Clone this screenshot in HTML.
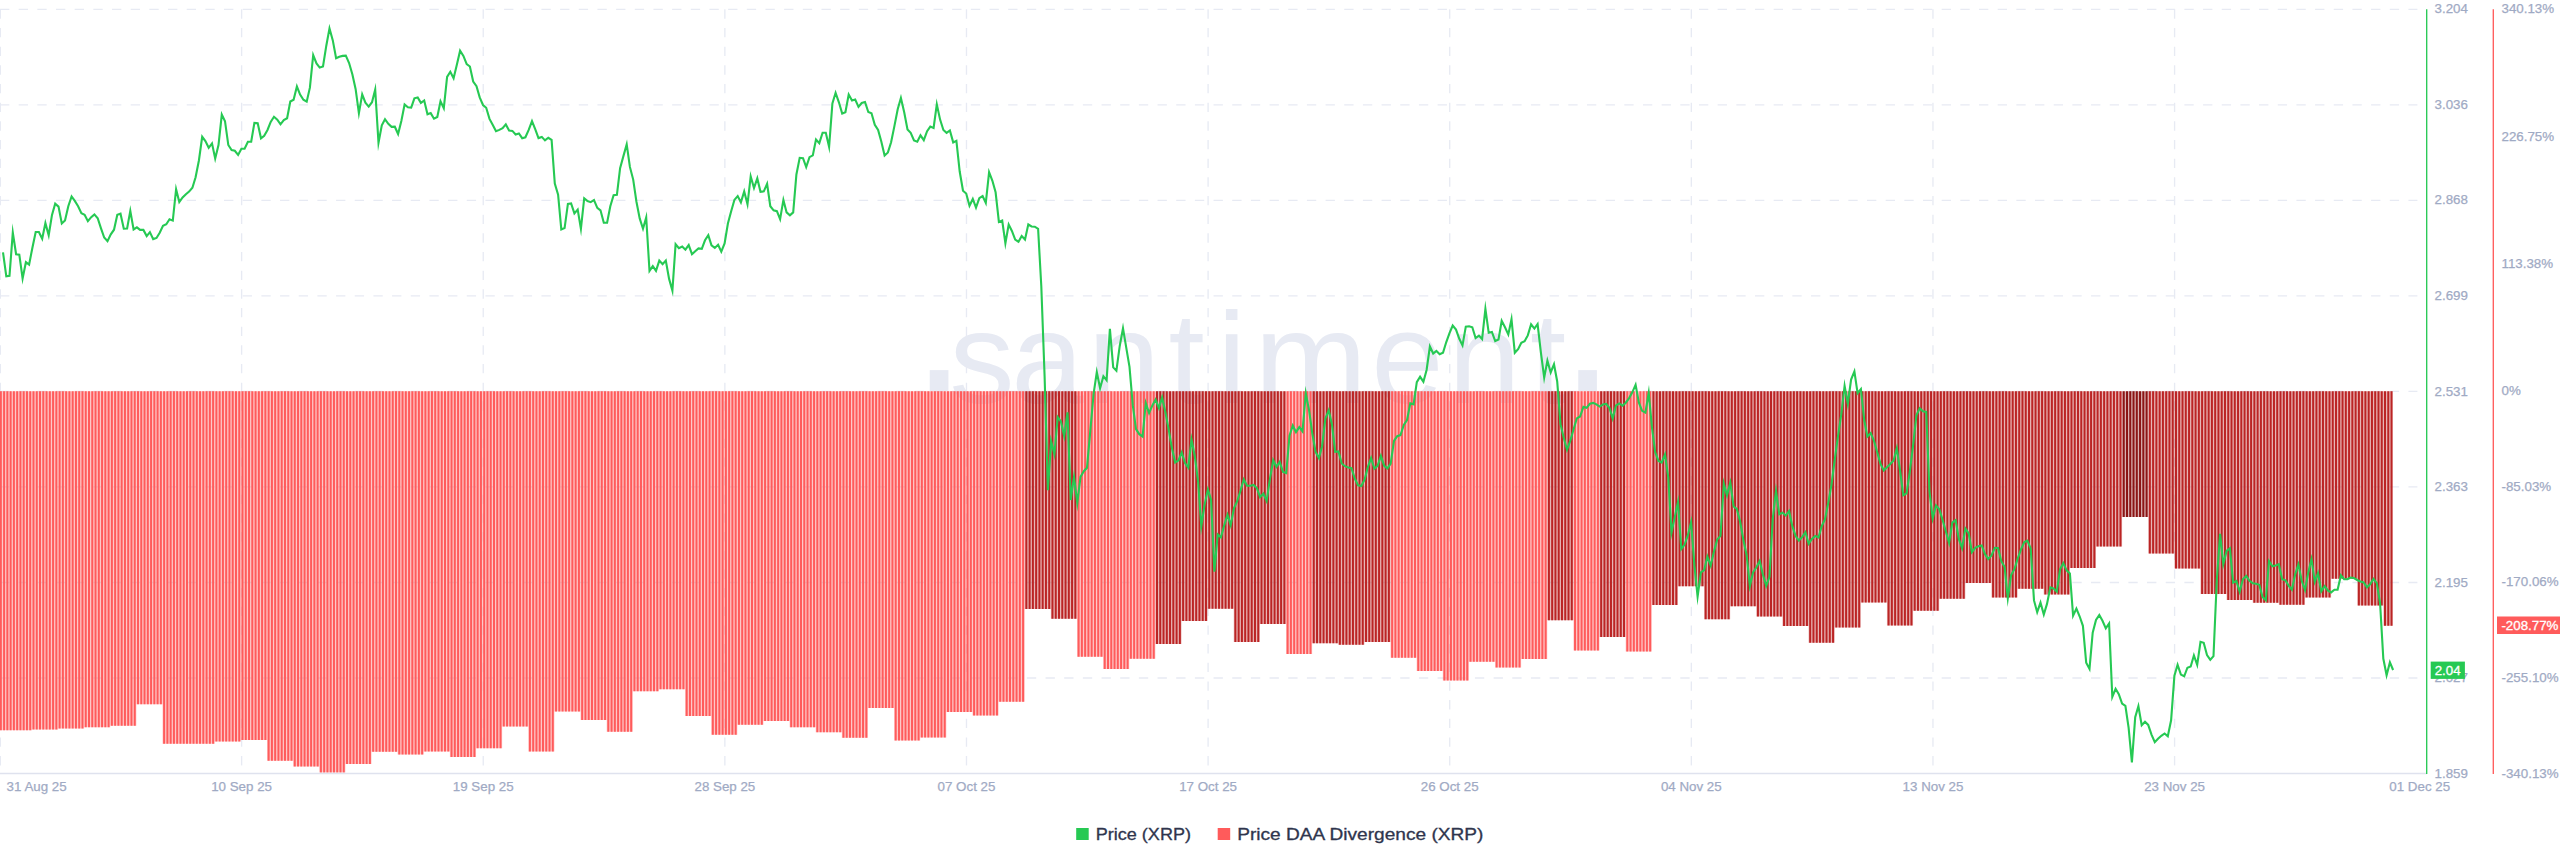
<!DOCTYPE html><html><head><meta charset="utf-8"><title>Price DAA Divergence (XRP)</title>
<style>html,body{margin:0;padding:0;background:#fff}body{width:2560px;height:867px;overflow:hidden}svg{display:block}text{font-family:"Liberation Sans",Arial,Helvetica,sans-serif}</style></head><body>
<svg width="2560" height="867" viewBox="0 0 2560 867">
<rect width="2560" height="867" fill="#fff"/>
<g stroke="#E7EAF3" stroke-width="1.33" stroke-dasharray="9.335 9.335" fill="none">
<line x1="0" y1="9.30" x2="2417.4" y2="9.30"/>
<line x1="0" y1="104.83" x2="2417.4" y2="104.83"/>
<line x1="0" y1="200.36" x2="2417.4" y2="200.36"/>
<line x1="0" y1="295.89" x2="2417.4" y2="295.89"/>
<line x1="0" y1="391.42" x2="2417.4" y2="391.42"/>
<line x1="0" y1="486.95" x2="2417.4" y2="486.95"/>
<line x1="0" y1="582.48" x2="2417.4" y2="582.48"/>
<line x1="0" y1="678.01" x2="2417.4" y2="678.01"/>
<line x1="0.30" y1="9.3" x2="0.30" y2="773.5"/>
<line x1="241.62" y1="9.3" x2="241.62" y2="773.5"/>
<line x1="483.24" y1="9.3" x2="483.24" y2="773.5"/>
<line x1="724.86" y1="9.3" x2="724.86" y2="773.5"/>
<line x1="966.48" y1="9.3" x2="966.48" y2="773.5"/>
<line x1="1208.10" y1="9.3" x2="1208.10" y2="773.5"/>
<line x1="1449.72" y1="9.3" x2="1449.72" y2="773.5"/>
<line x1="1691.34" y1="9.3" x2="1691.34" y2="773.5"/>
<line x1="1932.96" y1="9.3" x2="1932.96" y2="773.5"/>
<line x1="2174.58" y1="9.3" x2="2174.58" y2="773.5"/>
</g>
<text font-size="130" fill="#E7EAF3" text-anchor="middle" x="939.0 982.1 1047.5 1123.9 1186.6 1231.7 1310.7 1407.3 1484.5 1548.0 1587.5" y="390.5 402.5 402.5 402.5 402.5 402.5 402.5 402.5 402.5 402.5 390.5"><tspan font-size="195">.</tspan>santi<tspan textLength="113" lengthAdjust="spacingAndGlyphs">m</tspan>ent<tspan font-size="195">.</tspan></text>
<path fill="#FF5B5B" fill-opacity="0.335" d="M-0.80 391.2H31.86V730.3H-0.80zM31.86 391.2H57.98V729.4H31.86zM57.98 391.2H84.11V728.4H57.98zM84.11 391.2H110.24V727.2H84.11zM110.24 391.2H136.37V725.8H110.24zM136.37 391.2H162.50V704.3H136.37zM162.50 391.2H188.63V743.8H162.50zM188.62 391.2H214.75V743.7H188.62zM214.75 391.2H240.88V741.6H214.75zM240.88 391.2H267.01V740.0H240.88zM267.01 391.2H293.14V760.8H267.01zM293.14 391.2H319.26V766.6H293.14zM319.26 391.2H345.39V772.6H319.26zM345.39 391.2H371.52V764.0H345.39zM371.52 391.2H397.65V751.8H371.52zM397.65 391.2H423.78V754.6H397.65zM423.78 391.2H449.90V751.6H423.78zM449.91 391.2H476.03V756.9H449.91zM476.03 391.2H502.16V748.3H476.03zM502.16 391.2H528.29V726.6H502.16zM528.29 391.2H554.42V751.6H528.29zM554.42 391.2H580.55V711.6H554.42zM580.54 391.2H606.67V720.0H580.54zM606.67 391.2H632.80V731.7H606.67zM632.80 391.2H658.93V691.3H632.80zM658.93 391.2H685.06V689.3H658.93zM685.06 391.2H711.19V716.0H685.06zM711.19 391.2H737.31V734.7H711.19zM737.31 391.2H763.44V724.8H737.31zM763.44 391.2H789.57V720.9H763.44zM789.57 391.2H815.70V727.3H789.57zM815.70 391.2H841.83V732.2H815.70zM841.83 391.2H867.95V737.7H841.83zM867.95 391.2H894.08V708.0H867.95zM894.08 391.2H920.21V740.5H894.08zM920.21 391.2H946.34V737.5H920.21zM946.34 391.2H972.47V711.9H946.34zM972.47 391.2H998.59V715.6H972.47zM998.59 391.2H1024.72V701.8H998.59zM1076.98 391.2H1103.11V656.7H1076.98zM1103.10 391.2H1129.23V668.9H1103.10zM1129.23 391.2H1155.36V658.7H1129.23zM1286.00 391.2H1312.13V654.1H1286.00zM1390.51 391.2H1416.64V657.8H1390.51zM1416.64 391.2H1442.77V671.0H1416.64zM1442.77 391.2H1468.90V680.4H1442.77zM1468.90 391.2H1495.02V661.7H1468.90zM1495.02 391.2H1521.15V667.6H1495.02zM1521.15 391.2H1547.28V659.1H1521.15zM1573.41 391.2H1599.54V650.6H1573.41zM1625.66 391.2H1651.79V651.5H1625.66z"/>
<path fill="#FF5B5B" d="M-0.17 391.2h2.0V730.3h-2.0zM3.10 391.2h2.0V730.3h-2.0zM6.36 391.2h2.0V730.3h-2.0zM9.63 391.2h2.0V730.3h-2.0zM12.89 391.2h2.0V730.3h-2.0zM16.16 391.2h2.0V730.3h-2.0zM19.43 391.2h2.0V730.3h-2.0zM22.69 391.2h2.0V730.3h-2.0zM25.96 391.2h2.0V730.3h-2.0zM29.22 391.2h2.0V730.3h-2.0zM32.49 391.2h2.0V729.4h-2.0zM35.76 391.2h2.0V729.4h-2.0zM39.02 391.2h2.0V729.4h-2.0zM42.29 391.2h2.0V729.4h-2.0zM45.55 391.2h2.0V729.4h-2.0zM48.82 391.2h2.0V729.4h-2.0zM52.09 391.2h2.0V729.4h-2.0zM55.35 391.2h2.0V729.4h-2.0zM58.62 391.2h2.0V728.4h-2.0zM61.88 391.2h2.0V728.4h-2.0zM65.15 391.2h2.0V728.4h-2.0zM68.42 391.2h2.0V728.4h-2.0zM71.68 391.2h2.0V728.4h-2.0zM74.95 391.2h2.0V728.4h-2.0zM78.21 391.2h2.0V728.4h-2.0zM81.48 391.2h2.0V728.4h-2.0zM84.75 391.2h2.0V727.2h-2.0zM88.01 391.2h2.0V727.2h-2.0zM91.28 391.2h2.0V727.2h-2.0zM94.54 391.2h2.0V727.2h-2.0zM97.81 391.2h2.0V727.2h-2.0zM101.08 391.2h2.0V727.2h-2.0zM104.34 391.2h2.0V727.2h-2.0zM107.61 391.2h2.0V727.2h-2.0zM110.87 391.2h2.0V725.8h-2.0zM114.14 391.2h2.0V725.8h-2.0zM117.41 391.2h2.0V725.8h-2.0zM120.67 391.2h2.0V725.8h-2.0zM123.94 391.2h2.0V725.8h-2.0zM127.20 391.2h2.0V725.8h-2.0zM130.47 391.2h2.0V725.8h-2.0zM133.74 391.2h2.0V725.8h-2.0zM137.00 391.2h2.0V704.3h-2.0zM140.27 391.2h2.0V704.3h-2.0zM143.53 391.2h2.0V704.3h-2.0zM146.80 391.2h2.0V704.3h-2.0zM150.07 391.2h2.0V704.3h-2.0zM153.33 391.2h2.0V704.3h-2.0zM156.60 391.2h2.0V704.3h-2.0zM159.86 391.2h2.0V704.3h-2.0zM163.13 391.2h2.0V743.8h-2.0zM166.40 391.2h2.0V743.8h-2.0zM169.66 391.2h2.0V743.8h-2.0zM172.93 391.2h2.0V743.8h-2.0zM176.19 391.2h2.0V743.8h-2.0zM179.46 391.2h2.0V743.8h-2.0zM182.73 391.2h2.0V743.8h-2.0zM185.99 391.2h2.0V743.8h-2.0zM189.26 391.2h2.0V743.7h-2.0zM192.52 391.2h2.0V743.7h-2.0zM195.79 391.2h2.0V743.7h-2.0zM199.06 391.2h2.0V743.7h-2.0zM202.32 391.2h2.0V743.7h-2.0zM205.59 391.2h2.0V743.7h-2.0zM208.85 391.2h2.0V743.7h-2.0zM212.12 391.2h2.0V743.7h-2.0zM215.39 391.2h2.0V741.6h-2.0zM218.65 391.2h2.0V741.6h-2.0zM221.92 391.2h2.0V741.6h-2.0zM225.18 391.2h2.0V741.6h-2.0zM228.45 391.2h2.0V741.6h-2.0zM231.72 391.2h2.0V741.6h-2.0zM234.98 391.2h2.0V741.6h-2.0zM238.25 391.2h2.0V741.6h-2.0zM241.51 391.2h2.0V740.0h-2.0zM244.78 391.2h2.0V740.0h-2.0zM248.05 391.2h2.0V740.0h-2.0zM251.31 391.2h2.0V740.0h-2.0zM254.58 391.2h2.0V740.0h-2.0zM257.84 391.2h2.0V740.0h-2.0zM261.11 391.2h2.0V740.0h-2.0zM264.38 391.2h2.0V740.0h-2.0zM267.64 391.2h2.0V760.8h-2.0zM270.91 391.2h2.0V760.8h-2.0zM274.17 391.2h2.0V760.8h-2.0zM277.44 391.2h2.0V760.8h-2.0zM280.71 391.2h2.0V760.8h-2.0zM283.97 391.2h2.0V760.8h-2.0zM287.24 391.2h2.0V760.8h-2.0zM290.50 391.2h2.0V760.8h-2.0zM293.77 391.2h2.0V766.6h-2.0zM297.04 391.2h2.0V766.6h-2.0zM300.30 391.2h2.0V766.6h-2.0zM303.57 391.2h2.0V766.6h-2.0zM306.83 391.2h2.0V766.6h-2.0zM310.10 391.2h2.0V766.6h-2.0zM313.37 391.2h2.0V766.6h-2.0zM316.63 391.2h2.0V766.6h-2.0zM319.90 391.2h2.0V772.6h-2.0zM323.16 391.2h2.0V772.6h-2.0zM326.43 391.2h2.0V772.6h-2.0zM329.70 391.2h2.0V772.6h-2.0zM332.96 391.2h2.0V772.6h-2.0zM336.23 391.2h2.0V772.6h-2.0zM339.49 391.2h2.0V772.6h-2.0zM342.76 391.2h2.0V772.6h-2.0zM346.03 391.2h2.0V764.0h-2.0zM349.29 391.2h2.0V764.0h-2.0zM352.56 391.2h2.0V764.0h-2.0zM355.82 391.2h2.0V764.0h-2.0zM359.09 391.2h2.0V764.0h-2.0zM362.36 391.2h2.0V764.0h-2.0zM365.62 391.2h2.0V764.0h-2.0zM368.89 391.2h2.0V764.0h-2.0zM372.15 391.2h2.0V751.8h-2.0zM375.42 391.2h2.0V751.8h-2.0zM378.69 391.2h2.0V751.8h-2.0zM381.95 391.2h2.0V751.8h-2.0zM385.22 391.2h2.0V751.8h-2.0zM388.48 391.2h2.0V751.8h-2.0zM391.75 391.2h2.0V751.8h-2.0zM395.02 391.2h2.0V751.8h-2.0zM398.28 391.2h2.0V754.6h-2.0zM401.55 391.2h2.0V754.6h-2.0zM404.81 391.2h2.0V754.6h-2.0zM408.08 391.2h2.0V754.6h-2.0zM411.35 391.2h2.0V754.6h-2.0zM414.61 391.2h2.0V754.6h-2.0zM417.88 391.2h2.0V754.6h-2.0zM421.14 391.2h2.0V754.6h-2.0zM424.41 391.2h2.0V751.6h-2.0zM427.68 391.2h2.0V751.6h-2.0zM430.94 391.2h2.0V751.6h-2.0zM434.21 391.2h2.0V751.6h-2.0zM437.47 391.2h2.0V751.6h-2.0zM440.74 391.2h2.0V751.6h-2.0zM444.01 391.2h2.0V751.6h-2.0zM447.27 391.2h2.0V751.6h-2.0zM450.54 391.2h2.0V756.9h-2.0zM453.80 391.2h2.0V756.9h-2.0zM457.07 391.2h2.0V756.9h-2.0zM460.34 391.2h2.0V756.9h-2.0zM463.60 391.2h2.0V756.9h-2.0zM466.87 391.2h2.0V756.9h-2.0zM470.13 391.2h2.0V756.9h-2.0zM473.40 391.2h2.0V756.9h-2.0zM476.67 391.2h2.0V748.3h-2.0zM479.93 391.2h2.0V748.3h-2.0zM483.20 391.2h2.0V748.3h-2.0zM486.46 391.2h2.0V748.3h-2.0zM489.73 391.2h2.0V748.3h-2.0zM493.00 391.2h2.0V748.3h-2.0zM496.26 391.2h2.0V748.3h-2.0zM499.53 391.2h2.0V748.3h-2.0zM502.79 391.2h2.0V726.6h-2.0zM506.06 391.2h2.0V726.6h-2.0zM509.33 391.2h2.0V726.6h-2.0zM512.59 391.2h2.0V726.6h-2.0zM515.86 391.2h2.0V726.6h-2.0zM519.12 391.2h2.0V726.6h-2.0zM522.39 391.2h2.0V726.6h-2.0zM525.66 391.2h2.0V726.6h-2.0zM528.92 391.2h2.0V751.6h-2.0zM532.19 391.2h2.0V751.6h-2.0zM535.45 391.2h2.0V751.6h-2.0zM538.72 391.2h2.0V751.6h-2.0zM541.99 391.2h2.0V751.6h-2.0zM545.25 391.2h2.0V751.6h-2.0zM548.52 391.2h2.0V751.6h-2.0zM551.78 391.2h2.0V751.6h-2.0zM555.05 391.2h2.0V711.6h-2.0zM558.32 391.2h2.0V711.6h-2.0zM561.58 391.2h2.0V711.6h-2.0zM564.85 391.2h2.0V711.6h-2.0zM568.11 391.2h2.0V711.6h-2.0zM571.38 391.2h2.0V711.6h-2.0zM574.65 391.2h2.0V711.6h-2.0zM577.91 391.2h2.0V711.6h-2.0zM581.18 391.2h2.0V720.0h-2.0zM584.44 391.2h2.0V720.0h-2.0zM587.71 391.2h2.0V720.0h-2.0zM590.98 391.2h2.0V720.0h-2.0zM594.24 391.2h2.0V720.0h-2.0zM597.51 391.2h2.0V720.0h-2.0zM600.77 391.2h2.0V720.0h-2.0zM604.04 391.2h2.0V720.0h-2.0zM607.31 391.2h2.0V731.7h-2.0zM610.57 391.2h2.0V731.7h-2.0zM613.84 391.2h2.0V731.7h-2.0zM617.10 391.2h2.0V731.7h-2.0zM620.37 391.2h2.0V731.7h-2.0zM623.64 391.2h2.0V731.7h-2.0zM626.90 391.2h2.0V731.7h-2.0zM630.17 391.2h2.0V731.7h-2.0zM633.43 391.2h2.0V691.3h-2.0zM636.70 391.2h2.0V691.3h-2.0zM639.97 391.2h2.0V691.3h-2.0zM643.23 391.2h2.0V691.3h-2.0zM646.50 391.2h2.0V691.3h-2.0zM649.76 391.2h2.0V691.3h-2.0zM653.03 391.2h2.0V691.3h-2.0zM656.30 391.2h2.0V691.3h-2.0zM659.56 391.2h2.0V689.3h-2.0zM662.83 391.2h2.0V689.3h-2.0zM666.09 391.2h2.0V689.3h-2.0zM669.36 391.2h2.0V689.3h-2.0zM672.63 391.2h2.0V689.3h-2.0zM675.89 391.2h2.0V689.3h-2.0zM679.16 391.2h2.0V689.3h-2.0zM682.42 391.2h2.0V689.3h-2.0zM685.69 391.2h2.0V716.0h-2.0zM688.96 391.2h2.0V716.0h-2.0zM692.22 391.2h2.0V716.0h-2.0zM695.49 391.2h2.0V716.0h-2.0zM698.75 391.2h2.0V716.0h-2.0zM702.02 391.2h2.0V716.0h-2.0zM705.29 391.2h2.0V716.0h-2.0zM708.55 391.2h2.0V716.0h-2.0zM711.82 391.2h2.0V734.7h-2.0zM715.08 391.2h2.0V734.7h-2.0zM718.35 391.2h2.0V734.7h-2.0zM721.62 391.2h2.0V734.7h-2.0zM724.88 391.2h2.0V734.7h-2.0zM728.15 391.2h2.0V734.7h-2.0zM731.41 391.2h2.0V734.7h-2.0zM734.68 391.2h2.0V734.7h-2.0zM737.95 391.2h2.0V724.8h-2.0zM741.21 391.2h2.0V724.8h-2.0zM744.48 391.2h2.0V724.8h-2.0zM747.74 391.2h2.0V724.8h-2.0zM751.01 391.2h2.0V724.8h-2.0zM754.28 391.2h2.0V724.8h-2.0zM757.54 391.2h2.0V724.8h-2.0zM760.81 391.2h2.0V724.8h-2.0zM764.07 391.2h2.0V720.9h-2.0zM767.34 391.2h2.0V720.9h-2.0zM770.61 391.2h2.0V720.9h-2.0zM773.87 391.2h2.0V720.9h-2.0zM777.14 391.2h2.0V720.9h-2.0zM780.40 391.2h2.0V720.9h-2.0zM783.67 391.2h2.0V720.9h-2.0zM786.94 391.2h2.0V720.9h-2.0zM790.20 391.2h2.0V727.3h-2.0zM793.47 391.2h2.0V727.3h-2.0zM796.73 391.2h2.0V727.3h-2.0zM800.00 391.2h2.0V727.3h-2.0zM803.27 391.2h2.0V727.3h-2.0zM806.53 391.2h2.0V727.3h-2.0zM809.80 391.2h2.0V727.3h-2.0zM813.06 391.2h2.0V727.3h-2.0zM816.33 391.2h2.0V732.2h-2.0zM819.60 391.2h2.0V732.2h-2.0zM822.86 391.2h2.0V732.2h-2.0zM826.13 391.2h2.0V732.2h-2.0zM829.39 391.2h2.0V732.2h-2.0zM832.66 391.2h2.0V732.2h-2.0zM835.93 391.2h2.0V732.2h-2.0zM839.19 391.2h2.0V732.2h-2.0zM842.46 391.2h2.0V737.7h-2.0zM845.72 391.2h2.0V737.7h-2.0zM848.99 391.2h2.0V737.7h-2.0zM852.26 391.2h2.0V737.7h-2.0zM855.52 391.2h2.0V737.7h-2.0zM858.79 391.2h2.0V737.7h-2.0zM862.05 391.2h2.0V737.7h-2.0zM865.32 391.2h2.0V737.7h-2.0zM868.59 391.2h2.0V708.0h-2.0zM871.85 391.2h2.0V708.0h-2.0zM875.12 391.2h2.0V708.0h-2.0zM878.38 391.2h2.0V708.0h-2.0zM881.65 391.2h2.0V708.0h-2.0zM884.92 391.2h2.0V708.0h-2.0zM888.18 391.2h2.0V708.0h-2.0zM891.45 391.2h2.0V708.0h-2.0zM894.71 391.2h2.0V740.5h-2.0zM897.98 391.2h2.0V740.5h-2.0zM901.25 391.2h2.0V740.5h-2.0zM904.51 391.2h2.0V740.5h-2.0zM907.78 391.2h2.0V740.5h-2.0zM911.04 391.2h2.0V740.5h-2.0zM914.31 391.2h2.0V740.5h-2.0zM917.58 391.2h2.0V740.5h-2.0zM920.84 391.2h2.0V737.5h-2.0zM924.11 391.2h2.0V737.5h-2.0zM927.37 391.2h2.0V737.5h-2.0zM930.64 391.2h2.0V737.5h-2.0zM933.91 391.2h2.0V737.5h-2.0zM937.17 391.2h2.0V737.5h-2.0zM940.44 391.2h2.0V737.5h-2.0zM943.70 391.2h2.0V737.5h-2.0zM946.97 391.2h2.0V711.9h-2.0zM950.24 391.2h2.0V711.9h-2.0zM953.50 391.2h2.0V711.9h-2.0zM956.77 391.2h2.0V711.9h-2.0zM960.03 391.2h2.0V711.9h-2.0zM963.30 391.2h2.0V711.9h-2.0zM966.57 391.2h2.0V711.9h-2.0zM969.83 391.2h2.0V711.9h-2.0zM973.10 391.2h2.0V715.6h-2.0zM976.36 391.2h2.0V715.6h-2.0zM979.63 391.2h2.0V715.6h-2.0zM982.90 391.2h2.0V715.6h-2.0zM986.16 391.2h2.0V715.6h-2.0zM989.43 391.2h2.0V715.6h-2.0zM992.69 391.2h2.0V715.6h-2.0zM995.96 391.2h2.0V715.6h-2.0zM999.23 391.2h2.0V701.8h-2.0zM1002.49 391.2h2.0V701.8h-2.0zM1005.76 391.2h2.0V701.8h-2.0zM1009.02 391.2h2.0V701.8h-2.0zM1012.29 391.2h2.0V701.8h-2.0zM1015.56 391.2h2.0V701.8h-2.0zM1018.82 391.2h2.0V701.8h-2.0zM1022.09 391.2h2.0V701.8h-2.0zM1077.61 391.2h2.0V656.7h-2.0zM1080.88 391.2h2.0V656.7h-2.0zM1084.14 391.2h2.0V656.7h-2.0zM1087.41 391.2h2.0V656.7h-2.0zM1090.67 391.2h2.0V656.7h-2.0zM1093.94 391.2h2.0V656.7h-2.0zM1097.21 391.2h2.0V656.7h-2.0zM1100.47 391.2h2.0V656.7h-2.0zM1103.74 391.2h2.0V668.9h-2.0zM1107.00 391.2h2.0V668.9h-2.0zM1110.27 391.2h2.0V668.9h-2.0zM1113.54 391.2h2.0V668.9h-2.0zM1116.80 391.2h2.0V668.9h-2.0zM1120.07 391.2h2.0V668.9h-2.0zM1123.33 391.2h2.0V668.9h-2.0zM1126.60 391.2h2.0V668.9h-2.0zM1129.87 391.2h2.0V658.7h-2.0zM1133.13 391.2h2.0V658.7h-2.0zM1136.40 391.2h2.0V658.7h-2.0zM1139.66 391.2h2.0V658.7h-2.0zM1142.93 391.2h2.0V658.7h-2.0zM1146.20 391.2h2.0V658.7h-2.0zM1149.46 391.2h2.0V658.7h-2.0zM1152.73 391.2h2.0V658.7h-2.0zM1286.63 391.2h2.0V654.1h-2.0zM1289.90 391.2h2.0V654.1h-2.0zM1293.17 391.2h2.0V654.1h-2.0zM1296.43 391.2h2.0V654.1h-2.0zM1299.70 391.2h2.0V654.1h-2.0zM1302.96 391.2h2.0V654.1h-2.0zM1306.23 391.2h2.0V654.1h-2.0zM1309.50 391.2h2.0V654.1h-2.0zM1391.15 391.2h2.0V657.8h-2.0zM1394.41 391.2h2.0V657.8h-2.0zM1397.68 391.2h2.0V657.8h-2.0zM1400.94 391.2h2.0V657.8h-2.0zM1404.21 391.2h2.0V657.8h-2.0zM1407.48 391.2h2.0V657.8h-2.0zM1410.74 391.2h2.0V657.8h-2.0zM1414.01 391.2h2.0V657.8h-2.0zM1417.27 391.2h2.0V671.0h-2.0zM1420.54 391.2h2.0V671.0h-2.0zM1423.81 391.2h2.0V671.0h-2.0zM1427.07 391.2h2.0V671.0h-2.0zM1430.34 391.2h2.0V671.0h-2.0zM1433.60 391.2h2.0V671.0h-2.0zM1436.87 391.2h2.0V671.0h-2.0zM1440.14 391.2h2.0V671.0h-2.0zM1443.40 391.2h2.0V680.4h-2.0zM1446.67 391.2h2.0V680.4h-2.0zM1449.93 391.2h2.0V680.4h-2.0zM1453.20 391.2h2.0V680.4h-2.0zM1456.47 391.2h2.0V680.4h-2.0zM1459.73 391.2h2.0V680.4h-2.0zM1463.00 391.2h2.0V680.4h-2.0zM1466.26 391.2h2.0V680.4h-2.0zM1469.53 391.2h2.0V661.7h-2.0zM1472.80 391.2h2.0V661.7h-2.0zM1476.06 391.2h2.0V661.7h-2.0zM1479.33 391.2h2.0V661.7h-2.0zM1482.59 391.2h2.0V661.7h-2.0zM1485.86 391.2h2.0V661.7h-2.0zM1489.13 391.2h2.0V661.7h-2.0zM1492.39 391.2h2.0V661.7h-2.0zM1495.66 391.2h2.0V667.6h-2.0zM1498.92 391.2h2.0V667.6h-2.0zM1502.19 391.2h2.0V667.6h-2.0zM1505.46 391.2h2.0V667.6h-2.0zM1508.72 391.2h2.0V667.6h-2.0zM1511.99 391.2h2.0V667.6h-2.0zM1515.25 391.2h2.0V667.6h-2.0zM1518.52 391.2h2.0V667.6h-2.0zM1521.79 391.2h2.0V659.1h-2.0zM1525.05 391.2h2.0V659.1h-2.0zM1528.32 391.2h2.0V659.1h-2.0zM1531.58 391.2h2.0V659.1h-2.0zM1534.85 391.2h2.0V659.1h-2.0zM1538.12 391.2h2.0V659.1h-2.0zM1541.38 391.2h2.0V659.1h-2.0zM1544.65 391.2h2.0V659.1h-2.0zM1574.04 391.2h2.0V650.6h-2.0zM1577.31 391.2h2.0V650.6h-2.0zM1580.57 391.2h2.0V650.6h-2.0zM1583.84 391.2h2.0V650.6h-2.0zM1587.11 391.2h2.0V650.6h-2.0zM1590.37 391.2h2.0V650.6h-2.0zM1593.64 391.2h2.0V650.6h-2.0zM1596.90 391.2h2.0V650.6h-2.0zM1626.30 391.2h2.0V651.5h-2.0zM1629.56 391.2h2.0V651.5h-2.0zM1632.83 391.2h2.0V651.5h-2.0zM1636.10 391.2h2.0V651.5h-2.0zM1639.36 391.2h2.0V651.5h-2.0zM1642.63 391.2h2.0V651.5h-2.0zM1645.89 391.2h2.0V651.5h-2.0zM1649.16 391.2h2.0V651.5h-2.0z"/>
<path fill="#BB2424" fill-opacity="0.335" d="M1024.72 391.2H1050.85V609.1H1024.72zM1050.85 391.2H1076.98V618.8H1050.85zM1155.36 391.2H1181.49V644.0H1155.36zM1181.49 391.2H1207.62V620.9H1181.49zM1207.62 391.2H1233.74V608.7H1207.62zM1233.74 391.2H1259.87V641.9H1233.74zM1259.87 391.2H1286.00V624.1H1259.87zM1312.13 391.2H1338.26V643.3H1312.13zM1338.26 391.2H1364.38V644.7H1338.26zM1364.38 391.2H1390.51V642.1H1364.38zM1547.28 391.2H1573.41V620.3H1547.28zM1599.54 391.2H1625.66V637.0H1599.54zM1651.79 391.2H1677.92V605.1H1651.79zM1677.92 391.2H1704.05V586.2H1677.92zM1704.05 391.2H1730.18V619.2H1704.05zM1730.18 391.2H1756.31V606.3H1730.18zM1756.30 391.2H1782.43V616.4H1756.30zM1782.43 391.2H1808.56V625.9H1782.43zM1808.56 391.2H1834.69V642.7H1808.56zM1834.69 391.2H1860.82V627.5H1834.69zM1860.82 391.2H1886.94V602.4H1860.82zM1886.94 391.2H1913.07V625.4H1886.94zM1913.07 391.2H1939.20V610.7H1913.07zM1939.20 391.2H1965.33V598.7H1939.20zM1965.33 391.2H1991.46V582.9H1965.33zM1991.46 391.2H2017.59V597.4H1991.46zM2017.58 391.2H2043.71V588.7H2017.58zM2043.71 391.2H2069.84V594.4H2043.71zM2069.84 391.2H2095.97V567.9H2069.84zM2095.97 391.2H2122.10V546.4H2095.97zM2148.22 391.2H2174.35V553.4H2148.22zM2174.35 391.2H2200.48V568.6H2174.35zM2200.48 391.2H2226.61V594.0H2200.48zM2226.61 391.2H2252.74V600.0H2226.61zM2252.74 391.2H2278.86V602.7H2252.74zM2278.87 391.2H2304.99V604.8H2278.87zM2304.99 391.2H2331.12V597.4H2304.99zM2331.12 391.2H2357.25V578.7H2331.12zM2357.25 391.2H2383.38V605.5H2357.25zM2383.38 391.2H2392.54V625.8H2383.38z"/>
<path fill="#BB2424" d="M1025.35 391.2h2.0V609.1h-2.0zM1028.62 391.2h2.0V609.1h-2.0zM1031.89 391.2h2.0V609.1h-2.0zM1035.15 391.2h2.0V609.1h-2.0zM1038.42 391.2h2.0V609.1h-2.0zM1041.68 391.2h2.0V609.1h-2.0zM1044.95 391.2h2.0V609.1h-2.0zM1048.22 391.2h2.0V609.1h-2.0zM1051.48 391.2h2.0V618.8h-2.0zM1054.75 391.2h2.0V618.8h-2.0zM1058.01 391.2h2.0V618.8h-2.0zM1061.28 391.2h2.0V618.8h-2.0zM1064.55 391.2h2.0V618.8h-2.0zM1067.81 391.2h2.0V618.8h-2.0zM1071.08 391.2h2.0V618.8h-2.0zM1074.34 391.2h2.0V618.8h-2.0zM1155.99 391.2h2.0V644.0h-2.0zM1159.26 391.2h2.0V644.0h-2.0zM1162.53 391.2h2.0V644.0h-2.0zM1165.79 391.2h2.0V644.0h-2.0zM1169.06 391.2h2.0V644.0h-2.0zM1172.32 391.2h2.0V644.0h-2.0zM1175.59 391.2h2.0V644.0h-2.0zM1178.86 391.2h2.0V644.0h-2.0zM1182.12 391.2h2.0V620.9h-2.0zM1185.39 391.2h2.0V620.9h-2.0zM1188.65 391.2h2.0V620.9h-2.0zM1191.92 391.2h2.0V620.9h-2.0zM1195.19 391.2h2.0V620.9h-2.0zM1198.45 391.2h2.0V620.9h-2.0zM1201.72 391.2h2.0V620.9h-2.0zM1204.98 391.2h2.0V620.9h-2.0zM1208.25 391.2h2.0V608.7h-2.0zM1211.52 391.2h2.0V608.7h-2.0zM1214.78 391.2h2.0V608.7h-2.0zM1218.05 391.2h2.0V608.7h-2.0zM1221.31 391.2h2.0V608.7h-2.0zM1224.58 391.2h2.0V608.7h-2.0zM1227.85 391.2h2.0V608.7h-2.0zM1231.11 391.2h2.0V608.7h-2.0zM1234.38 391.2h2.0V641.9h-2.0zM1237.64 391.2h2.0V641.9h-2.0zM1240.91 391.2h2.0V641.9h-2.0zM1244.18 391.2h2.0V641.9h-2.0zM1247.44 391.2h2.0V641.9h-2.0zM1250.71 391.2h2.0V641.9h-2.0zM1253.97 391.2h2.0V641.9h-2.0zM1257.24 391.2h2.0V641.9h-2.0zM1260.51 391.2h2.0V624.1h-2.0zM1263.77 391.2h2.0V624.1h-2.0zM1267.04 391.2h2.0V624.1h-2.0zM1270.30 391.2h2.0V624.1h-2.0zM1273.57 391.2h2.0V624.1h-2.0zM1276.84 391.2h2.0V624.1h-2.0zM1280.10 391.2h2.0V624.1h-2.0zM1283.37 391.2h2.0V624.1h-2.0zM1312.76 391.2h2.0V643.3h-2.0zM1316.03 391.2h2.0V643.3h-2.0zM1319.29 391.2h2.0V643.3h-2.0zM1322.56 391.2h2.0V643.3h-2.0zM1325.83 391.2h2.0V643.3h-2.0zM1329.09 391.2h2.0V643.3h-2.0zM1332.36 391.2h2.0V643.3h-2.0zM1335.62 391.2h2.0V643.3h-2.0zM1338.89 391.2h2.0V644.7h-2.0zM1342.16 391.2h2.0V644.7h-2.0zM1345.42 391.2h2.0V644.7h-2.0zM1348.69 391.2h2.0V644.7h-2.0zM1351.95 391.2h2.0V644.7h-2.0zM1355.22 391.2h2.0V644.7h-2.0zM1358.49 391.2h2.0V644.7h-2.0zM1361.75 391.2h2.0V644.7h-2.0zM1365.02 391.2h2.0V642.1h-2.0zM1368.28 391.2h2.0V642.1h-2.0zM1371.55 391.2h2.0V642.1h-2.0zM1374.82 391.2h2.0V642.1h-2.0zM1378.08 391.2h2.0V642.1h-2.0zM1381.35 391.2h2.0V642.1h-2.0zM1384.61 391.2h2.0V642.1h-2.0zM1387.88 391.2h2.0V642.1h-2.0zM1547.91 391.2h2.0V620.3h-2.0zM1551.18 391.2h2.0V620.3h-2.0zM1554.45 391.2h2.0V620.3h-2.0zM1557.71 391.2h2.0V620.3h-2.0zM1560.98 391.2h2.0V620.3h-2.0zM1564.24 391.2h2.0V620.3h-2.0zM1567.51 391.2h2.0V620.3h-2.0zM1570.78 391.2h2.0V620.3h-2.0zM1600.17 391.2h2.0V637.0h-2.0zM1603.44 391.2h2.0V637.0h-2.0zM1606.70 391.2h2.0V637.0h-2.0zM1609.97 391.2h2.0V637.0h-2.0zM1613.23 391.2h2.0V637.0h-2.0zM1616.50 391.2h2.0V637.0h-2.0zM1619.77 391.2h2.0V637.0h-2.0zM1623.03 391.2h2.0V637.0h-2.0zM1652.43 391.2h2.0V605.1h-2.0zM1655.69 391.2h2.0V605.1h-2.0zM1658.96 391.2h2.0V605.1h-2.0zM1662.22 391.2h2.0V605.1h-2.0zM1665.49 391.2h2.0V605.1h-2.0zM1668.76 391.2h2.0V605.1h-2.0zM1672.02 391.2h2.0V605.1h-2.0zM1675.29 391.2h2.0V605.1h-2.0zM1678.55 391.2h2.0V586.2h-2.0zM1681.82 391.2h2.0V586.2h-2.0zM1685.09 391.2h2.0V586.2h-2.0zM1688.35 391.2h2.0V586.2h-2.0zM1691.62 391.2h2.0V586.2h-2.0zM1694.88 391.2h2.0V586.2h-2.0zM1698.15 391.2h2.0V586.2h-2.0zM1701.42 391.2h2.0V586.2h-2.0zM1704.68 391.2h2.0V619.2h-2.0zM1707.95 391.2h2.0V619.2h-2.0zM1711.21 391.2h2.0V619.2h-2.0zM1714.48 391.2h2.0V619.2h-2.0zM1717.75 391.2h2.0V619.2h-2.0zM1721.01 391.2h2.0V619.2h-2.0zM1724.28 391.2h2.0V619.2h-2.0zM1727.54 391.2h2.0V619.2h-2.0zM1730.81 391.2h2.0V606.3h-2.0zM1734.08 391.2h2.0V606.3h-2.0zM1737.34 391.2h2.0V606.3h-2.0zM1740.61 391.2h2.0V606.3h-2.0zM1743.87 391.2h2.0V606.3h-2.0zM1747.14 391.2h2.0V606.3h-2.0zM1750.41 391.2h2.0V606.3h-2.0zM1753.67 391.2h2.0V606.3h-2.0zM1756.94 391.2h2.0V616.4h-2.0zM1760.20 391.2h2.0V616.4h-2.0zM1763.47 391.2h2.0V616.4h-2.0zM1766.74 391.2h2.0V616.4h-2.0zM1770.00 391.2h2.0V616.4h-2.0zM1773.27 391.2h2.0V616.4h-2.0zM1776.53 391.2h2.0V616.4h-2.0zM1779.80 391.2h2.0V616.4h-2.0zM1783.07 391.2h2.0V625.9h-2.0zM1786.33 391.2h2.0V625.9h-2.0zM1789.60 391.2h2.0V625.9h-2.0zM1792.86 391.2h2.0V625.9h-2.0zM1796.13 391.2h2.0V625.9h-2.0zM1799.40 391.2h2.0V625.9h-2.0zM1802.66 391.2h2.0V625.9h-2.0zM1805.93 391.2h2.0V625.9h-2.0zM1809.19 391.2h2.0V642.7h-2.0zM1812.46 391.2h2.0V642.7h-2.0zM1815.73 391.2h2.0V642.7h-2.0zM1818.99 391.2h2.0V642.7h-2.0zM1822.26 391.2h2.0V642.7h-2.0zM1825.52 391.2h2.0V642.7h-2.0zM1828.79 391.2h2.0V642.7h-2.0zM1832.06 391.2h2.0V642.7h-2.0zM1835.32 391.2h2.0V627.5h-2.0zM1838.59 391.2h2.0V627.5h-2.0zM1841.85 391.2h2.0V627.5h-2.0zM1845.12 391.2h2.0V627.5h-2.0zM1848.39 391.2h2.0V627.5h-2.0zM1851.65 391.2h2.0V627.5h-2.0zM1854.92 391.2h2.0V627.5h-2.0zM1858.18 391.2h2.0V627.5h-2.0zM1861.45 391.2h2.0V602.4h-2.0zM1864.72 391.2h2.0V602.4h-2.0zM1867.98 391.2h2.0V602.4h-2.0zM1871.25 391.2h2.0V602.4h-2.0zM1874.51 391.2h2.0V602.4h-2.0zM1877.78 391.2h2.0V602.4h-2.0zM1881.05 391.2h2.0V602.4h-2.0zM1884.31 391.2h2.0V602.4h-2.0zM1887.58 391.2h2.0V625.4h-2.0zM1890.84 391.2h2.0V625.4h-2.0zM1894.11 391.2h2.0V625.4h-2.0zM1897.38 391.2h2.0V625.4h-2.0zM1900.64 391.2h2.0V625.4h-2.0zM1903.91 391.2h2.0V625.4h-2.0zM1907.17 391.2h2.0V625.4h-2.0zM1910.44 391.2h2.0V625.4h-2.0zM1913.71 391.2h2.0V610.7h-2.0zM1916.97 391.2h2.0V610.7h-2.0zM1920.24 391.2h2.0V610.7h-2.0zM1923.50 391.2h2.0V610.7h-2.0zM1926.77 391.2h2.0V610.7h-2.0zM1930.04 391.2h2.0V610.7h-2.0zM1933.30 391.2h2.0V610.7h-2.0zM1936.57 391.2h2.0V610.7h-2.0zM1939.83 391.2h2.0V598.7h-2.0zM1943.10 391.2h2.0V598.7h-2.0zM1946.37 391.2h2.0V598.7h-2.0zM1949.63 391.2h2.0V598.7h-2.0zM1952.90 391.2h2.0V598.7h-2.0zM1956.16 391.2h2.0V598.7h-2.0zM1959.43 391.2h2.0V598.7h-2.0zM1962.70 391.2h2.0V598.7h-2.0zM1965.96 391.2h2.0V582.9h-2.0zM1969.23 391.2h2.0V582.9h-2.0zM1972.49 391.2h2.0V582.9h-2.0zM1975.76 391.2h2.0V582.9h-2.0zM1979.03 391.2h2.0V582.9h-2.0zM1982.29 391.2h2.0V582.9h-2.0zM1985.56 391.2h2.0V582.9h-2.0zM1988.82 391.2h2.0V582.9h-2.0zM1992.09 391.2h2.0V597.4h-2.0zM1995.36 391.2h2.0V597.4h-2.0zM1998.62 391.2h2.0V597.4h-2.0zM2001.89 391.2h2.0V597.4h-2.0zM2005.15 391.2h2.0V597.4h-2.0zM2008.42 391.2h2.0V597.4h-2.0zM2011.69 391.2h2.0V597.4h-2.0zM2014.95 391.2h2.0V597.4h-2.0zM2018.22 391.2h2.0V588.7h-2.0zM2021.48 391.2h2.0V588.7h-2.0zM2024.75 391.2h2.0V588.7h-2.0zM2028.02 391.2h2.0V588.7h-2.0zM2031.28 391.2h2.0V588.7h-2.0zM2034.55 391.2h2.0V588.7h-2.0zM2037.81 391.2h2.0V588.7h-2.0zM2041.08 391.2h2.0V588.7h-2.0zM2044.35 391.2h2.0V594.4h-2.0zM2047.61 391.2h2.0V594.4h-2.0zM2050.88 391.2h2.0V594.4h-2.0zM2054.14 391.2h2.0V594.4h-2.0zM2057.41 391.2h2.0V594.4h-2.0zM2060.68 391.2h2.0V594.4h-2.0zM2063.94 391.2h2.0V594.4h-2.0zM2067.21 391.2h2.0V594.4h-2.0zM2070.47 391.2h2.0V567.9h-2.0zM2073.74 391.2h2.0V567.9h-2.0zM2077.01 391.2h2.0V567.9h-2.0zM2080.27 391.2h2.0V567.9h-2.0zM2083.54 391.2h2.0V567.9h-2.0zM2086.80 391.2h2.0V567.9h-2.0zM2090.07 391.2h2.0V567.9h-2.0zM2093.34 391.2h2.0V567.9h-2.0zM2096.60 391.2h2.0V546.4h-2.0zM2099.87 391.2h2.0V546.4h-2.0zM2103.13 391.2h2.0V546.4h-2.0zM2106.40 391.2h2.0V546.4h-2.0zM2109.67 391.2h2.0V546.4h-2.0zM2112.93 391.2h2.0V546.4h-2.0zM2116.20 391.2h2.0V546.4h-2.0zM2119.46 391.2h2.0V546.4h-2.0zM2148.86 391.2h2.0V553.4h-2.0zM2152.12 391.2h2.0V553.4h-2.0zM2155.39 391.2h2.0V553.4h-2.0zM2158.66 391.2h2.0V553.4h-2.0zM2161.92 391.2h2.0V553.4h-2.0zM2165.19 391.2h2.0V553.4h-2.0zM2168.45 391.2h2.0V553.4h-2.0zM2171.72 391.2h2.0V553.4h-2.0zM2174.99 391.2h2.0V568.6h-2.0zM2178.25 391.2h2.0V568.6h-2.0zM2181.52 391.2h2.0V568.6h-2.0zM2184.78 391.2h2.0V568.6h-2.0zM2188.05 391.2h2.0V568.6h-2.0zM2191.32 391.2h2.0V568.6h-2.0zM2194.58 391.2h2.0V568.6h-2.0zM2197.85 391.2h2.0V568.6h-2.0zM2201.11 391.2h2.0V594.0h-2.0zM2204.38 391.2h2.0V594.0h-2.0zM2207.65 391.2h2.0V594.0h-2.0zM2210.91 391.2h2.0V594.0h-2.0zM2214.18 391.2h2.0V594.0h-2.0zM2217.44 391.2h2.0V594.0h-2.0zM2220.71 391.2h2.0V594.0h-2.0zM2223.98 391.2h2.0V594.0h-2.0zM2227.24 391.2h2.0V600.0h-2.0zM2230.51 391.2h2.0V600.0h-2.0zM2233.77 391.2h2.0V600.0h-2.0zM2237.04 391.2h2.0V600.0h-2.0zM2240.31 391.2h2.0V600.0h-2.0zM2243.57 391.2h2.0V600.0h-2.0zM2246.84 391.2h2.0V600.0h-2.0zM2250.10 391.2h2.0V600.0h-2.0zM2253.37 391.2h2.0V602.7h-2.0zM2256.64 391.2h2.0V602.7h-2.0zM2259.90 391.2h2.0V602.7h-2.0zM2263.17 391.2h2.0V602.7h-2.0zM2266.43 391.2h2.0V602.7h-2.0zM2269.70 391.2h2.0V602.7h-2.0zM2272.97 391.2h2.0V602.7h-2.0zM2276.23 391.2h2.0V602.7h-2.0zM2279.50 391.2h2.0V604.8h-2.0zM2282.76 391.2h2.0V604.8h-2.0zM2286.03 391.2h2.0V604.8h-2.0zM2289.30 391.2h2.0V604.8h-2.0zM2292.56 391.2h2.0V604.8h-2.0zM2295.83 391.2h2.0V604.8h-2.0zM2299.09 391.2h2.0V604.8h-2.0zM2302.36 391.2h2.0V604.8h-2.0zM2305.63 391.2h2.0V597.4h-2.0zM2308.89 391.2h2.0V597.4h-2.0zM2312.16 391.2h2.0V597.4h-2.0zM2315.42 391.2h2.0V597.4h-2.0zM2318.69 391.2h2.0V597.4h-2.0zM2321.96 391.2h2.0V597.4h-2.0zM2325.22 391.2h2.0V597.4h-2.0zM2328.49 391.2h2.0V597.4h-2.0zM2331.75 391.2h2.0V578.7h-2.0zM2335.02 391.2h2.0V578.7h-2.0zM2338.29 391.2h2.0V578.7h-2.0zM2341.55 391.2h2.0V578.7h-2.0zM2344.82 391.2h2.0V578.7h-2.0zM2348.08 391.2h2.0V578.7h-2.0zM2351.35 391.2h2.0V578.7h-2.0zM2354.62 391.2h2.0V578.7h-2.0zM2357.88 391.2h2.0V605.5h-2.0zM2361.15 391.2h2.0V605.5h-2.0zM2364.41 391.2h2.0V605.5h-2.0zM2367.68 391.2h2.0V605.5h-2.0zM2370.95 391.2h2.0V605.5h-2.0zM2374.21 391.2h2.0V605.5h-2.0zM2377.48 391.2h2.0V605.5h-2.0zM2380.74 391.2h2.0V605.5h-2.0zM2384.01 391.2h2.0V625.8h-2.0zM2387.28 391.2h2.0V625.8h-2.0zM2390.54 391.2h2.0V625.8h-2.0z"/>
<path fill="#8B1414" fill-opacity="0.335" d="M2122.10 391.2H2148.22V516.9H2122.10z"/>
<path fill="#8B1414" d="M2122.73 391.2h2.0V516.9h-2.0zM2126.00 391.2h2.0V516.9h-2.0zM2129.26 391.2h2.0V516.9h-2.0zM2132.53 391.2h2.0V516.9h-2.0zM2135.79 391.2h2.0V516.9h-2.0zM2139.06 391.2h2.0V516.9h-2.0zM2142.33 391.2h2.0V516.9h-2.0zM2145.59 391.2h2.0V516.9h-2.0z"/>
<line x1="0" y1="773.5" x2="2427" y2="773.5" stroke="#DFE2EE" stroke-width="1.33"/>
<path d="M3.0 252.3 L6.3 276.4 L9.5 275.9 L12.8 232.6 L16.1 254.2 L19.3 254.6 L22.6 278.4 L25.9 262.2 L29.1 264.6 L32.4 247.7 L35.7 232.0 L38.9 232.0 L42.2 238.7 L45.4 223.1 L48.7 235.2 L52.0 214.9 L55.2 203.7 L58.5 206.6 L61.8 223.5 L65.0 220.5 L68.3 206.2 L71.6 196.5 L74.8 200.9 L78.1 206.2 L81.4 213.1 L84.6 214.7 L87.9 221.2 L91.2 217.2 L94.4 214.4 L97.7 218.2 L101.0 228.3 L104.2 237.5 L107.5 241.1 L110.8 234.3 L114.0 229.7 L117.3 214.7 L120.5 213.7 L123.8 228.7 L127.1 228.5 L130.3 210.9 L133.6 229.5 L136.9 227.4 L140.1 229.9 L143.4 229.9 L146.7 236.1 L149.9 232.1 L153.2 239.1 L156.5 238.0 L159.7 232.7 L163.0 225.8 L166.3 224.2 L169.5 219.2 L172.8 220.6 L176.1 189.2 L179.3 202.1 L182.6 197.4 L185.9 194.2 L189.1 191.6 L192.4 187.7 L195.6 177.3 L198.9 160.5 L202.2 136.8 L205.4 141.1 L208.7 147.8 L212.0 143.4 L215.2 158.5 L218.5 145.0 L221.8 114.6 L225.0 121.2 L228.3 145.0 L231.6 150.1 L234.8 150.8 L238.1 154.9 L241.4 148.7 L244.6 148.7 L247.9 141.8 L251.2 141.8 L254.4 122.9 L257.7 123.3 L261.0 138.3 L264.2 135.8 L267.5 130.0 L270.7 121.9 L274.0 116.8 L277.3 119.6 L280.5 124.3 L283.8 120.0 L287.1 118.2 L290.3 101.5 L293.6 99.7 L296.9 86.5 L300.1 94.6 L303.4 99.7 L306.7 101.7 L309.9 87.7 L313.2 55.1 L316.5 63.5 L319.7 67.6 L323.0 66.5 L326.3 45.7 L329.5 28.4 L332.8 40.4 L336.1 58.3 L339.3 56.8 L342.6 55.9 L345.8 55.6 L349.1 63.0 L352.4 74.5 L355.6 88.9 L358.9 113.1 L362.2 94.4 L365.4 102.7 L368.7 106.6 L372.0 102.2 L375.2 89.6 L378.5 142.8 L381.8 125.3 L385.0 119.2 L388.3 123.9 L391.6 126.9 L394.8 126.7 L398.1 134.0 L401.4 120.7 L404.6 104.5 L407.9 107.3 L411.2 107.7 L414.4 98.3 L417.7 97.4 L420.9 102.9 L424.2 100.5 L427.5 114.3 L430.7 113.1 L434.0 118.7 L437.3 117.0 L440.5 101.3 L443.8 108.2 L447.1 76.9 L450.3 71.8 L453.6 78.2 L456.9 64.6 L460.1 50.7 L463.4 55.9 L466.7 64.2 L469.9 66.5 L473.2 81.5 L476.5 86.1 L479.7 97.4 L483.0 105.0 L486.2 107.8 L489.5 118.9 L492.8 125.1 L496.0 131.2 L499.3 129.9 L502.6 128.1 L505.8 124.4 L509.1 130.6 L512.4 130.9 L515.6 134.5 L518.9 133.4 L522.2 138.2 L525.4 137.3 L528.7 129.9 L532.0 121.2 L535.2 129.2 L538.5 138.1 L541.8 136.9 L545.0 140.4 L548.3 137.8 L551.6 139.9 L554.8 183.5 L558.1 194.6 L561.3 229.4 L564.6 228.1 L567.9 203.9 L571.1 203.4 L574.4 213.4 L577.7 209.6 L580.9 228.8 L584.2 198.3 L587.5 201.1 L590.7 202.2 L594.0 200.0 L597.3 207.8 L600.5 210.3 L603.8 222.8 L607.1 222.8 L610.3 206.2 L613.6 195.3 L616.9 194.9 L620.1 168.1 L623.4 156.1 L626.7 144.4 L629.9 166.9 L633.2 179.6 L636.4 201.5 L639.7 218.4 L643.0 228.7 L646.2 217.5 L649.5 270.9 L652.8 266.1 L656.0 270.8 L659.3 260.6 L662.6 264.2 L665.8 260.6 L669.1 278.9 L672.4 290.6 L675.6 244.2 L678.9 248.1 L682.2 246.5 L685.4 249.7 L688.7 245.1 L692.0 254.2 L695.2 251.2 L698.5 248.4 L701.8 248.8 L705.0 240.3 L708.3 235.2 L711.5 245.4 L714.8 247.9 L718.1 244.7 L721.3 251.7 L724.6 243.5 L727.9 223.5 L731.1 211.5 L734.4 199.9 L737.7 196.1 L740.9 202.4 L744.2 191.5 L747.5 204.3 L750.7 176.5 L754.0 188.1 L757.3 178.4 L760.5 191.8 L763.8 191.4 L767.1 183.9 L770.3 206.2 L773.6 210.3 L776.9 211.2 L780.1 219.1 L783.4 199.9 L786.6 212.4 L789.9 215.3 L793.2 212.4 L796.4 174.5 L799.7 157.8 L803.0 158.2 L806.2 167.1 L809.5 157.2 L812.8 155.4 L816.0 139.5 L819.3 143.1 L822.6 132.8 L825.8 132.8 L829.1 146.9 L832.4 103.5 L835.6 92.8 L838.9 102.3 L842.2 113.6 L845.4 112.2 L848.7 94.5 L852.0 100.6 L855.2 99.6 L858.5 106.9 L861.7 103.0 L865.0 102.0 L868.3 112.0 L871.5 113.2 L874.8 124.7 L878.1 130.0 L881.3 141.5 L884.6 155.5 L887.9 152.4 L891.1 142.2 L894.4 126.1 L897.7 109.2 L900.9 98.0 L904.2 112.2 L907.5 129.5 L910.7 132.8 L914.0 140.4 L917.3 141.7 L920.5 135.3 L923.8 140.2 L927.1 131.2 L930.3 126.6 L933.6 128.0 L936.8 104.3 L940.1 119.6 L943.4 130.0 L946.6 132.9 L949.9 130.5 L953.2 142.4 L956.4 140.8 L959.7 171.5 L963.0 190.7 L966.2 193.5 L969.5 205.8 L972.8 199.0 L976.0 207.6 L979.3 198.1 L982.6 196.0 L985.8 202.9 L989.1 172.2 L992.4 180.8 L995.6 192.3 L998.9 221.9 L1002.2 220.5 L1005.4 243.3 L1008.7 224.6 L1011.9 230.9 L1015.2 239.6 L1018.5 241.8 L1021.7 236.1 L1025.0 239.5 L1028.3 224.4 L1031.5 226.5 L1034.8 226.7 L1038.1 228.8 L1041.3 286.2 L1044.6 376.2 L1047.9 490.3 L1051.1 441.1 L1054.4 454.3 L1057.7 417.1 L1060.9 421.5 L1064.2 436.1 L1067.5 412.3 L1070.7 500.0 L1074.0 476.8 L1077.3 503.1 L1080.5 476.9 L1083.8 471.2 L1087.0 467.7 L1090.3 430.8 L1093.6 393.8 L1096.8 372.1 L1100.1 388.2 L1103.4 376.2 L1106.6 380.3 L1109.9 328.9 L1113.2 367.4 L1116.4 370.7 L1119.7 346.2 L1123.0 328.3 L1126.2 347.3 L1129.5 366.9 L1132.8 405.4 L1136.0 429.2 L1139.3 434.2 L1142.6 436.6 L1145.8 403.0 L1149.1 413.1 L1152.4 405.4 L1155.6 399.5 L1158.9 408.1 L1162.1 397.4 L1165.4 412.3 L1168.7 429.6 L1171.9 448.1 L1175.2 462.6 L1178.5 460.3 L1181.7 452.4 L1185.0 463.1 L1188.3 467.6 L1191.5 439.6 L1194.8 456.2 L1198.1 481.5 L1201.3 526.1 L1204.6 504.6 L1207.9 489.5 L1211.1 500.0 L1214.4 571.6 L1217.7 534.5 L1220.9 537.4 L1224.2 525.4 L1227.5 514.7 L1230.7 525.1 L1234.0 508.1 L1237.2 501.2 L1240.5 490.8 L1243.8 479.3 L1247.0 485.7 L1250.3 485.7 L1253.6 485.0 L1256.8 488.0 L1260.1 497.1 L1263.4 493.7 L1266.6 501.0 L1269.9 479.2 L1273.2 460.2 L1276.4 466.8 L1279.7 461.8 L1283.0 471.9 L1286.2 473.1 L1289.5 435.8 L1292.8 425.5 L1296.0 432.2 L1299.3 427.2 L1302.5 431.5 L1305.8 393.4 L1309.1 410.4 L1312.3 433.5 L1315.6 451.9 L1318.9 458.1 L1322.1 446.2 L1325.4 418.5 L1328.7 410.2 L1331.9 424.2 L1335.2 451.8 L1338.5 451.5 L1341.7 463.5 L1345.0 466.2 L1348.3 467.6 L1351.5 468.1 L1354.8 478.5 L1358.1 485.4 L1361.3 486.1 L1364.6 479.6 L1367.9 466.9 L1371.1 458.1 L1374.4 468.7 L1377.6 465.8 L1380.9 455.8 L1384.2 465.8 L1387.4 468.4 L1390.7 463.5 L1394.0 440.9 L1397.2 436.2 L1400.5 435.1 L1403.8 424.9 L1407.0 420.1 L1410.3 403.3 L1413.6 404.3 L1416.8 382.2 L1420.1 376.8 L1423.4 381.7 L1426.6 370.0 L1429.9 346.5 L1433.2 353.5 L1436.4 351.0 L1439.7 354.3 L1443.0 352.7 L1446.2 342.3 L1449.5 333.1 L1452.7 325.6 L1456.0 329.6 L1459.3 338.8 L1462.5 345.4 L1465.8 326.6 L1469.1 326.2 L1472.3 327.3 L1475.6 338.0 L1478.9 335.6 L1482.1 339.0 L1485.4 308.8 L1488.7 332.8 L1491.9 332.0 L1495.2 341.0 L1498.5 339.5 L1501.7 320.8 L1505.0 327.3 L1508.3 334.4 L1511.5 319.2 L1514.8 352.8 L1518.1 349.2 L1521.3 342.8 L1524.6 341.2 L1527.8 335.4 L1531.1 324.3 L1534.4 328.6 L1537.6 324.1 L1540.9 352.7 L1544.2 377.7 L1547.4 360.6 L1550.7 372.5 L1554.0 364.2 L1557.2 381.5 L1560.5 424.2 L1563.8 438.1 L1567.0 449.8 L1570.3 440.8 L1573.6 429.2 L1576.8 418.4 L1580.1 416.5 L1583.4 406.9 L1586.6 407.8 L1589.9 403.8 L1593.2 402.9 L1596.4 404.3 L1599.7 406.6 L1602.9 404.5 L1606.2 403.8 L1609.5 408.0 L1612.7 418.5 L1616.0 405.5 L1619.3 403.4 L1622.5 405.7 L1625.8 402.7 L1629.1 398.1 L1632.3 392.3 L1635.6 384.8 L1638.9 402.7 L1642.1 410.8 L1645.4 412.6 L1648.7 392.9 L1651.9 426.9 L1655.2 452.3 L1658.5 460.9 L1661.7 462.5 L1665.0 454.4 L1668.3 477.7 L1671.5 532.6 L1674.8 516.9 L1678.0 502.0 L1681.3 549.1 L1684.6 544.6 L1687.8 535.4 L1691.1 522.1 L1694.4 565.4 L1697.6 596.6 L1700.9 572.3 L1704.2 570.0 L1707.4 556.6 L1710.7 565.6 L1714.0 551.5 L1717.2 539.5 L1720.5 535.9 L1723.8 483.6 L1727.0 495.3 L1730.3 482.6 L1733.6 506.5 L1736.8 508.9 L1740.1 521.5 L1743.4 540.0 L1746.6 555.0 L1749.9 585.9 L1753.1 572.3 L1756.4 567.2 L1759.7 560.9 L1762.9 574.6 L1766.2 585.8 L1769.5 576.9 L1772.7 519.2 L1776.0 491.1 L1779.3 514.3 L1782.5 512.8 L1785.8 515.5 L1789.1 511.0 L1792.3 526.2 L1795.6 535.9 L1798.9 540.5 L1802.1 537.2 L1805.4 532.2 L1808.7 543.7 L1811.9 538.9 L1815.2 535.9 L1818.5 537.5 L1821.7 526.2 L1825.0 519.2 L1828.2 503.1 L1831.5 484.6 L1834.8 459.2 L1838.0 436.2 L1841.3 414.2 L1844.6 386.0 L1847.8 403.7 L1851.1 379.6 L1854.4 371.4 L1857.6 393.2 L1860.9 389.2 L1864.2 420.0 L1867.4 436.5 L1870.7 433.2 L1874.0 440.8 L1877.2 452.3 L1880.5 463.9 L1883.8 470.4 L1887.0 467.3 L1890.3 463.9 L1893.6 460.4 L1896.8 448.3 L1900.1 470.8 L1903.3 495.3 L1906.6 493.4 L1909.9 470.8 L1913.1 445.4 L1916.4 415.4 L1919.7 408.3 L1922.9 411.2 L1926.2 411.9 L1929.5 491.5 L1932.7 518.4 L1936.0 505.4 L1939.3 509.2 L1942.5 519.6 L1945.8 531.2 L1949.1 542.8 L1952.3 522.6 L1955.6 520.2 L1958.9 539.2 L1962.1 548.1 L1965.4 528.5 L1968.7 533.5 L1971.9 552.1 L1975.2 547.8 L1978.4 546.2 L1981.7 545.5 L1985.0 554.2 L1988.2 559.0 L1991.5 555.4 L1994.8 547.8 L1998.0 548.0 L2001.3 561.2 L2004.6 566.9 L2007.8 598.3 L2011.1 575.0 L2014.4 569.2 L2017.6 558.9 L2020.9 549.6 L2024.2 542.2 L2027.4 540.6 L2030.7 548.5 L2034.0 600.4 L2037.2 612.2 L2040.5 602.6 L2043.8 614.5 L2047.0 603.9 L2050.3 587.4 L2053.5 588.4 L2056.8 591.6 L2060.1 569.2 L2063.3 563.1 L2066.6 570.4 L2069.9 573.4 L2073.1 615.6 L2076.4 608.6 L2079.7 616.5 L2082.9 625.8 L2086.2 662.7 L2089.5 668.9 L2092.7 632.7 L2096.0 620.0 L2099.3 615.1 L2102.5 620.8 L2105.8 628.3 L2109.1 623.4 L2112.3 696.9 L2115.6 688.8 L2118.8 694.2 L2122.1 703.5 L2125.4 705.8 L2128.6 727.7 L2131.9 762.3 L2135.2 717.3 L2138.4 706.1 L2141.7 725.2 L2145.0 721.7 L2148.2 724.9 L2151.5 734.6 L2154.8 742.2 L2158.0 738.8 L2161.3 735.8 L2164.6 733.5 L2167.8 736.3 L2171.1 720.3 L2174.4 675.8 L2177.6 664.8 L2180.9 674.6 L2184.2 676.3 L2187.4 667.7 L2190.7 666.5 L2193.9 655.4 L2197.2 664.8 L2200.5 641.8 L2203.7 642.8 L2207.0 655.0 L2210.3 659.8 L2213.5 656.2 L2216.8 580.0 L2220.1 533.9 L2223.3 564.2 L2226.6 550.9 L2229.9 548.3 L2233.1 582.7 L2236.4 581.1 L2239.7 591.7 L2242.9 579.2 L2246.2 575.9 L2249.5 580.8 L2252.7 583.2 L2256.0 583.7 L2259.3 584.8 L2262.5 596.9 L2265.8 600.1 L2269.0 561.2 L2272.3 566.2 L2275.6 565.4 L2278.8 564.1 L2282.1 579.2 L2285.4 580.3 L2288.6 585.6 L2291.9 589.6 L2295.2 574.3 L2298.4 564.4 L2301.7 580.8 L2305.0 590.0 L2308.2 572.7 L2311.5 559.2 L2314.8 581.8 L2318.0 573.0 L2321.3 591.4 L2324.6 586.2 L2327.8 590.5 L2331.1 592.4 L2334.4 589.7 L2337.6 589.7 L2340.9 575.4 L2344.1 579.2 L2347.4 579.2 L2350.7 577.5 L2353.9 578.0 L2357.2 580.0 L2360.5 581.6 L2363.7 582.4 L2367.0 587.3 L2370.3 584.0 L2373.5 578.8 L2376.8 583.2 L2380.1 603.4 L2383.3 658.5 L2386.6 675.2 L2389.9 662.4 L2393.1 670.0" fill="none" stroke="#26C953" stroke-width="2.1" stroke-linejoin="miter" stroke-miterlimit="10"/>
<line x1="2426.7" y1="9.3" x2="2426.7" y2="774.1" stroke="#26C953" stroke-width="1.33"/>
<line x1="2493.3" y1="9.3" x2="2493.3" y2="774.1" stroke="#FF5B5B" stroke-width="1.33"/>
<g font-size="13.33" fill="#9FAAC4" stroke="#9FAAC4" stroke-width="0.25">
<text x="2434.6" y="13.4">3.204</text>
<text x="2434.6" y="108.9">3.036</text>
<text x="2434.6" y="204.4">2.868</text>
<text x="2434.6" y="299.9">2.699</text>
<text x="2434.6" y="395.5">2.531</text>
<text x="2434.6" y="491.0">2.363</text>
<text x="2434.6" y="586.5">2.195</text>
<text x="2434.6" y="682.1">2.027</text>
<text x="2434.6" y="777.6">1.859</text>
<text x="2501.5" y="13.4">340.13%</text>
<text x="2501.5" y="140.8">226.75%</text>
<text x="2501.5" y="268.1">113.38%</text>
<text x="2501.5" y="395.4">0%</text>
<text x="2501.5" y="490.9">-85.03%</text>
<text x="2501.5" y="586.4">-170.06%</text>
<text x="2501.5" y="681.9">-255.10%</text>
<text x="2501.5" y="777.5">-340.13%</text>
<text x="6.6" y="791.3">31 Aug 25</text>
<text x="241.6" y="791.3" text-anchor="middle">10 Sep 25</text>
<text x="483.2" y="791.3" text-anchor="middle">19 Sep 25</text>
<text x="724.9" y="791.3" text-anchor="middle">28 Sep 25</text>
<text x="966.5" y="791.3" text-anchor="middle">07 Oct 25</text>
<text x="1208.1" y="791.3" text-anchor="middle">17 Oct 25</text>
<text x="1449.7" y="791.3" text-anchor="middle">26 Oct 25</text>
<text x="1691.3" y="791.3" text-anchor="middle">04 Nov 25</text>
<text x="1933.0" y="791.3" text-anchor="middle">13 Nov 25</text>
<text x="2174.6" y="791.3" text-anchor="middle">23 Nov 25</text>
<text x="2419.7" y="791.3" text-anchor="middle">01 Dec 25</text>
</g>
<rect x="2430.7" y="661.6" width="34.2" height="17.3" fill="#26C953"/>
<text x="2434.7" y="674.6" font-size="13.33" fill="#fff" stroke="#fff" stroke-width="0.3">2.04</text>
<rect x="2497" y="616.5" width="63" height="17.5" fill="#FF5B5B"/>
<text x="2501.4" y="630.2" font-size="13.33" fill="#fff" stroke="#fff" stroke-width="0.3">-208.77%</text>
<rect x="1076.2" y="828" width="12.5" height="12" fill="#26C953"/>
<text x="1095.7" y="840" font-size="16.6" fill="#2F354D" stroke="#2F354D" stroke-width="0.3" textLength="95.3" lengthAdjust="spacingAndGlyphs">Price (XRP)</text>
<rect x="1217.7" y="828" width="12.5" height="12" fill="#FF5B5B"/>
<text x="1237.2" y="840" font-size="16.6" fill="#2F354D" stroke="#2F354D" stroke-width="0.3" textLength="246.2" lengthAdjust="spacingAndGlyphs">Price DAA Divergence (XRP)</text>
</svg></body></html>
